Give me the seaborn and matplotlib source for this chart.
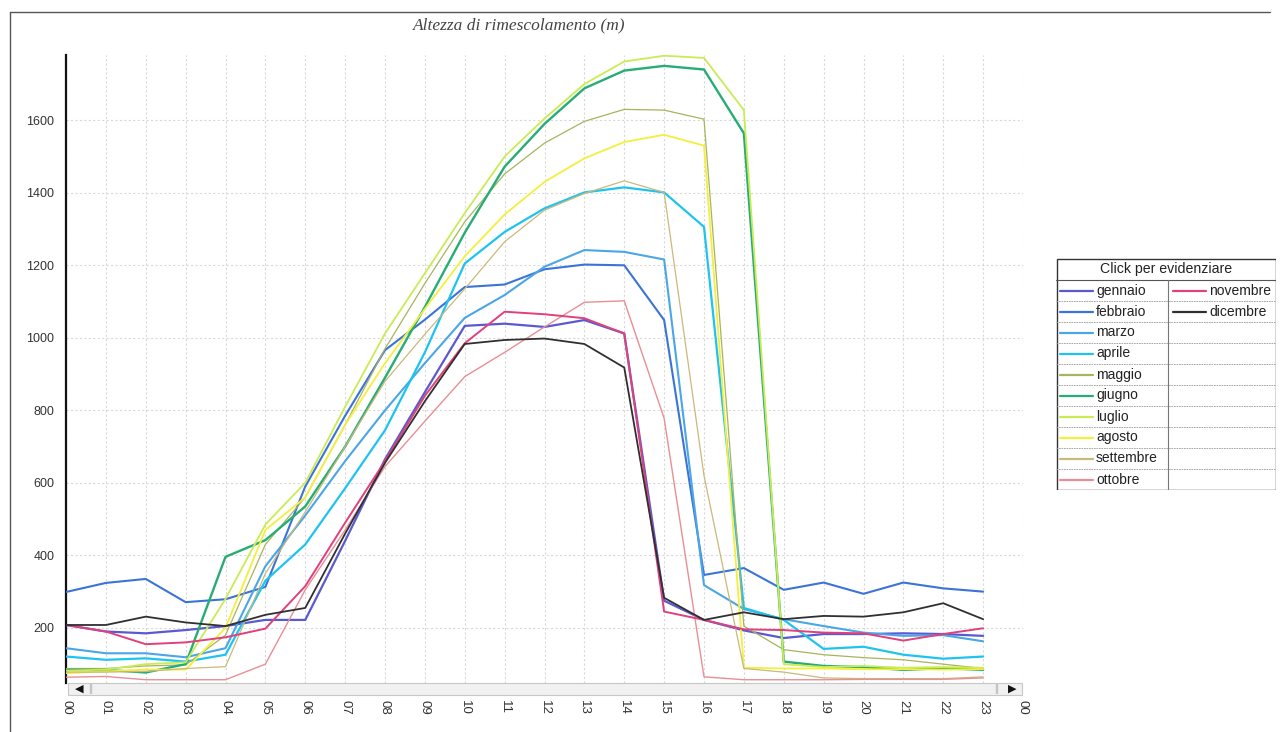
import numpy as np
import pandas as pd
import matplotlib
matplotlib.use("Agg")
import matplotlib.pyplot as plt
from matplotlib.patches import Rectangle
from matplotlib.lines import Line2D
import seaborn as sns

# ---------------- data ----------------
hours = list(range(24))
tick_labels = [f"{h:02d}" for h in range(24)] + ["00"]
months = ["gennaio", "febbraio", "marzo", "aprile", "maggio", "giugno",
          "luglio", "agosto", "settembre", "ottobre", "novembre", "dicembre"]

gennaio = [208, 190, 185, 194, 205, 222, 222, 440, 665, 850, 1033, 1039, 1030, 1049, 1012, 275, 222, 193, 172, 183, 183, 185, 183, 178]
febbraio = [299, 324, 335, 271, 279, 313, 590, 785, 966, 1050, 1140, 1147, 1189, 1202, 1200, 1049, 346, 365, 305, 325, 294, 325, 309, 300]
marzo = [144, 130, 130, 119, 144, 370, 510, 660, 800, 930, 1055, 1118, 1196, 1242, 1237, 1216, 318, 252, 224, 205, 187, 178, 180, 163]
aprile = [121, 112, 116, 107, 126, 330, 430, 585, 745, 960, 1205, 1292, 1357, 1401, 1415, 1401, 1306, 255, 222, 142, 148, 126, 115, 121]
maggio = [88, 88, 95, 98, 180, 430, 560, 760, 970, 1150, 1320, 1452, 1537, 1597, 1630, 1628, 1603, 205, 140, 126, 118, 112, 100, 88]
giugno = [84, 84, 77, 100, 396, 442, 535, 700, 890, 1085, 1290, 1472, 1590, 1688, 1737, 1750, 1740, 1564, 107, 95, 92, 84, 89, 84]
luglio = [82, 85, 100, 105, 280, 485, 600, 810, 1012, 1178, 1344, 1500, 1605, 1700, 1762, 1778, 1772, 1628, 100, 92, 95, 90, 92, 90]
agosto = [75, 80, 85, 85, 200, 470, 560, 760, 930, 1080, 1225, 1340, 1430, 1495, 1540, 1560, 1530, 90, 88, 88, 86, 86, 85, 86]
settembre = [78, 78, 80, 88, 93, 350, 520, 700, 880, 1010, 1135, 1265, 1352, 1398, 1433, 1401, 620, 88, 78, 62, 60, 60, 60, 65]
ottobre = [64, 66, 57, 57, 57, 100, 305, 470, 645, 770, 893, 960, 1030, 1098, 1102, 778, 65, 57, 57, 57, 58, 58, 58, 62]
novembre = [208, 190, 155, 160, 174, 198, 315, 490, 660, 840, 985, 1072, 1065, 1054, 1012, 245, 222, 196, 194, 187, 185, 165, 183, 199]
dicembre = [208, 208, 231, 215, 205, 236, 255, 460, 655, 825, 983, 994, 998, 983, 918, 283, 222, 243, 224, 233, 231, 243, 268, 224]

series = [gennaio, febbraio, marzo, aprile, maggio, giugno,
          luglio, agosto, settembre, ottobre, novembre, dicembre]

colors = {
    "gennaio": "#5a5ad0", "febbraio": "#3b74d6", "marzo": "#4aa6e6",
    "aprile": "#1fc3ef", "maggio": "#a9b35c", "giugno": "#27ad74",
    "luglio": "#c9ec55", "agosto": "#f3ef3c", "settembre": "#c9b97a",
    "ottobre": "#e88f95", "novembre": "#e0407c", "dicembre": "#303030",
}
widths = {
    "gennaio": 1.6, "febbraio": 1.5, "marzo": 1.5, "aprile": 1.6,
    "maggio": 0.9, "giugno": 1.7, "luglio": 1.3, "agosto": 1.3,
    "settembre": 0.9, "ottobre": 1.0, "novembre": 1.4, "dicembre": 1.3,
}

df = pd.DataFrame({
    "ora": np.tile(hours, len(months)),
    "altezza": np.concatenate(series),
    "mese": np.repeat(months, len(hours)),
})

# ---------------- figure ----------------
sns.set_style("white")
plt.rcParams["font.family"] = ["Liberation Sans", "DejaVu Sans"]

W, H = 1280, 732
fig = plt.figure(figsize=(W / 100, H / 100), dpi=100)


def fx(px):
    return px / W


def fy(py):
    return 1 - py / H


ax = fig.add_axes([fx(66), fy(683), fx(1023) - fx(66), fy(55) - fy(683)])

sns.lineplot(data=df, x="ora", y="altezza", hue="mese", hue_order=months,
             palette=colors, size="mese", size_order=months, sizes=widths,
             legend=False, ax=ax, zorder=3)

ax.set_xlim(0, 24)
ax.set_ylim(48, 1780)
ax.set_xlabel("")
ax.set_ylabel("")

ax.set_xticks(range(25))
ax.set_xticklabels(tick_labels, rotation=270, fontsize=9.5, color="#333333")
ax.set_yticks(range(200, 1601, 200))
ax.set_yticklabels([str(v) for v in range(200, 1601, 200)], fontsize=9, color="#333333")

ax.tick_params(axis="x", direction="in", length=5, width=1, color="#333333", pad=12)
ax.tick_params(axis="y", direction="inout", length=9, width=1.3, color="#111111", pad=4)

for s in ["top", "right", "bottom"]:
    ax.spines[s].set_visible(False)
ax.spines["left"].set_color("#111111")
ax.spines["left"].set_linewidth(1.6)

ax.grid(True, color="#d9d9d9", linestyle=(0, (2, 2)), linewidth=0.8)
ax.set_axisbelow(True)

# title
fig.text(fx(519), fy(25), "Altezza di rimescolamento (m)", ha="center", va="center",
         fontsize=12.5, style="italic", family=["Liberation Serif", "DejaVu Serif"],
         color="#444444")

# scrollbar under the plot
fig.patches.append(Rectangle((fx(68), fy(695)), fx(1022) - fx(68), fy(683) - fy(695),
                             transform=fig.transFigure, facecolor="#f1f1f1",
                             edgecolor="#c8c8c8", linewidth=0.8))
fig.text(fx(79), fy(689), "\u25c0", ha="center", va="center", fontsize=8,
         family=["DejaVu Sans"], color="#111111")
fig.text(fx(91), fy(689), "||", ha="center", va="center", fontsize=7, color="#aaaaaa")
fig.text(fx(997), fy(689), "||", ha="center", va="center", fontsize=7, color="#aaaaaa")
fig.text(fx(1012), fy(689), "\u25b6", ha="center", va="center", fontsize=8,
         family=["DejaVu Sans"], color="#111111")

# figure frame (left and top)
fig.add_artist(Line2D([fx(10), fx(10)], [fy(12), 0], transform=fig.transFigure,
                      color="#555555", linewidth=1))
fig.add_artist(Line2D([fx(10), fx(1270)], [fy(12), fy(12)], transform=fig.transFigure,
                      color="#555555", linewidth=1))

# legend table
lx0, ly0, lw_, lh_ = 1056, 258, 220, 232
lax = fig.add_axes([fx(lx0), fy(ly0 + lh_), fx(lw_), fy(ly0) - fy(ly0 + lh_)])
lax.set_xlim(0, lw_)
lax.set_ylim(lh_, 0)
lax.axis("off")
lax.add_patch(Rectangle((0.5, 0.5), lw_ - 1, lh_ - 1, facecolor="white",
                        edgecolor="#333333", linewidth=1.0))
lax.text(lw_ / 2, 11, "Click per evidenziare", ha="center", va="center",
         fontsize=10.2, color="#222222")
title_h, row_h, col_x = 22, 21, 112
lax.plot([0, lw_], [title_h, title_h], color="#555555", linewidth=0.8)
lax.plot([col_x, col_x], [title_h, lh_], color="#777777", linewidth=0.8)
for i in range(1, 10):
    yy = title_h + i * row_h
    lax.plot([0, lw_], [yy, yy], color="#9a9a9a", linewidth=0.6, linestyle=(0, (2, 1)))
for i, m in enumerate(months):
    col = 0 if i < 10 else 1
    row = i if i < 10 else i - 10
    yc = title_h + row * row_h + row_h / 2
    x0 = 4 if col == 0 else col_x + 5
    lax.plot([x0, x0 + 33], [yc, yc], color=colors[m], linewidth=1.6)
    lax.text(x0 + 36, yc, m, ha="left", va="center", fontsize=10, color="#222222")

fig.savefig("out.png", dpi=100, facecolor="white")
